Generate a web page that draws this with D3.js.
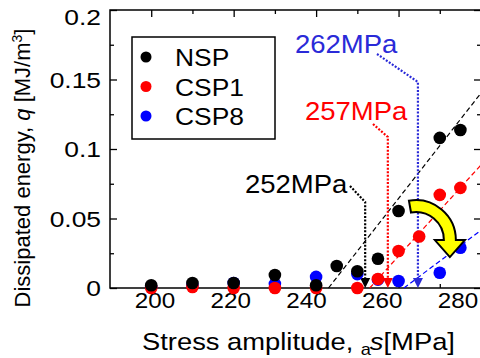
<!DOCTYPE html>
<html>
<head>
<meta charset="utf-8">
<script src="https://cdn.jsdelivr.net/npm/d3@7"></script>
<style>
  body { margin: 0; background: #fff; }
  svg { display: block; font-family: "Liberation Sans", Arial, sans-serif; }
</style>
</head>
<body>
<div id="chart"></div>
<script>
// series
const nspStress = [200, 210, 220, 230, 240, 245, 250, 255, 260, 270, 275];
const nspQ      = [0.002, 0.0036, 0.0036, 0.0094, 0.002, 0.0158, 0.012, 0.021, 0.0554, 0.108, 0.1137];
const csp1Stress = [200, 210, 220, 230, 240, 250, 255, 260, 265, 270, 275];
const csp1Q      = [0, 0.0007, 0, 0, 0, 0, 0.0065, 0.0266, 0.037, 0.067, 0.072];
const csp8Stress = [200, 210, 220, 230, 240, 250, 255, 260, 270, 275];
const csp8Q      = [0.001, 0.002, 0.0036, 0.003, 0.008, 0.010, 0.006, 0.005, 0.011, 0.029];

const seriesNames = ['NSP', 'CSP1', 'CSP8'];
const seriesColors = ['#000000', '#ff0000', '#0000ff'];

// linear fits (start on q = 0, slope in MJ/m3 per MPa)
const fitStart = [243, 253, 261.3];
const fitSlope = [0.00379, 0.00328, 0.00222];

// threshold annotations
const annotLabels = ['252MPa', '257MPa', '262MPa'];
const annotStress = [251.9, 257.4, 264.7];
const annotColors = ['#000000', '#ff0000', '#2a2ad8'];

const xTickLabels = [200, 220, 240, 260, 280];
const yTickLabels = [0, 0.05, 0.1, 0.15, 0.2];

const width = 480, height = 358;
const m = { left: 110, top: 10, right: 481, bottom: 288 };

const svg = d3.select('#chart').append('svg')
  .attr('width', width)
  .attr('height', height);

const x = d3.scaleLinear().domain([190, 280]).range([m.left, m.right]);
const y = d3.scaleLinear().domain([0, 0.2]).range([m.bottom, m.top]);
// printed numbers sit on their own spacing in the original figure
const xLab = d3.scaleLinear().domain([200, 280]).range([155, 458]);

// stretched text helper (the figure is widened horizontally)
function label(g, px, py, sx, size) {
  return g.append('text')
    .attr('transform', `translate(${px},${py}) scale(${sx},1)`)
    .style('font-size', size + 'px');
}

// ---- frame and ticks ----
const axes = svg.append('g');
const tickMajX = d3.range(200, 281, 20), tickMinX = d3.range(210, 281, 20);
const tickMajY = d3.range(0, 0.201, 0.05), tickMinY = d3.range(0.025, 0.2, 0.05);

function inner(axisFn, scale, vals, len, transform) {
  axes.append('g')
    .attr('transform', transform)
    .call(axisFn(scale).tickValues(vals).tickSize(len).tickFormat(''))
    .call(g => g.select('.domain').remove())
    .call(g => g.selectAll('line').attr('stroke', '#000').attr('stroke-width', 1.3));
}
inner(d3.axisTop, x, tickMajX, 7, `translate(0,${m.bottom})`);
inner(d3.axisTop, x, tickMinX, 4, `translate(0,${m.bottom})`);
inner(d3.axisBottom, x, tickMajX, 7, `translate(0,${m.top})`);
inner(d3.axisBottom, x, tickMinX, 4, `translate(0,${m.top})`);
inner(d3.axisRight, y, tickMajY, 7, `translate(${m.left},0)`);
inner(d3.axisRight, y, tickMinY, 4, `translate(${m.left},0)`);
inner(d3.axisLeft, y, tickMajY, 7, `translate(${m.right},0)`);
inner(d3.axisLeft, y, tickMinY, 4, `translate(${m.right},0)`);

axes.append('rect')
  .attr('x', m.left).attr('y', m.top)
  .attr('width', m.right - m.left).attr('height', m.bottom - m.top)
  .attr('fill', 'none').attr('stroke', '#000').attr('stroke-width', 1.5);

// tick labels
const tl = svg.append('g').attr('fill', '#000');
xTickLabels.forEach(v => {
  label(tl, xLab(v), 308, 1.1, 22).attr('text-anchor', 'middle').text(v);
});
yTickLabels.forEach(v => {
  // the top label is held inside the picture
  label(tl, 101, Math.max(y(v), 17) + 8, 1.2, 22).attr('text-anchor', 'end').text(v);
});

// axis titles
const yt = svg.append('text')
  .attr('transform', `translate(30,${168}) rotate(-90)`)
  .attr('text-anchor', 'middle')
  .style('font-size', '22px');
yt.append('tspan').text('Dissipated energy, ');
yt.append('tspan').style('font-style', 'italic').text('q');
yt.append('tspan').text(' [MJ/m');
yt.append('tspan').attr('dy', -8).style('font-size', '14px').text('3');
yt.append('tspan').attr('dy', 8).text(']');

const xt = label(svg, 142, 350, 1.14, 24);
xt.append('tspan').text('Stress amplitude, ');
xt.append('tspan').attr('dy', 5).style('font-size', '16px').text('a');
xt.append('tspan').attr('dy', -5).attr('dx', -1).style('font-style', 'italic').text('s');
xt.append('tspan').text('[MPa]');

// ---- fit lines ----
const fits = svg.append('g');
fitStart.forEach((s, i) => {
  const end = 280;
  fits.append('line')
    .attr('x1', x(s)).attr('y1', y(0))
    .attr('x2', x(end)).attr('y2', y(fitSlope[i] * (end - s)))
    .attr('stroke', seriesColors[i])
    .attr('stroke-width', 1.2)
    .attr('stroke-dasharray', '5,3');
});

// ---- threshold annotations ----
// label anchor (left, baseline) and the elbow drop, in pixels
const annotLayout = [
  { tx: 245, ty: 193, sx: 350, sy: 186, ey: 202 },
  { tx: 305, ty: 120, sx: 373, sy: 124, ey: 137 },
  { tx: 295, ty: 53,  sx: 377, sy: 54,  ey: 82 }
];
const ann = svg.append('g');
annotStress.forEach((v, i) => {
  const L = annotLayout[i], ax = x(v), c = annotColors[i];
  ann.append('polyline')
    .attr('points', `${L.sx},${L.sy} ${ax},${L.ey} ${ax},${y(0) - 8}`)
    .attr('fill', 'none')
    .attr('stroke', c)
    .attr('stroke-width', 2.2)
    .attr('stroke-dasharray', '2,1.6');
  ann.append('path')
    .attr('d', `M${ax - 5},${y(0) - 10} L${ax + 5},${y(0) - 10} L${ax},${y(0)} Z`)
    .attr('fill', c);
  label(ann, L.tx, L.ty, 1.1, 25).attr('fill', c).text(annotLabels[i]);
});

// ---- points ----
const series = [
  { xs: csp8Stress, qs: csp8Q, c: seriesColors[2] },
  { xs: csp1Stress, qs: csp1Q, c: seriesColors[1] },
  { xs: nspStress,  qs: nspQ,  c: seriesColors[0] }
];
series.forEach(s => {
  svg.append('g').selectAll('circle')
    .data(s.xs.map((v, i) => [v, s.qs[i]]))
    .join('circle')
    .attr('cx', d => x(d[0]))
    .attr('cy', d => y(d[1]))
    .attr('r', 6.3)
    .attr('fill', s.c);
});

// ---- yellow curved arrow ----
const arrowCenter = [264.2, 0.0345];
(function () {
  const cx = x(arrowCenter[0]), cy = y(arrowCenter[1]);
  const rO = 40, rI = 28, rM = 34;
  const a0 = -100 * Math.PI / 180, a1 = 0;
  const p = (r, a) => [cx + r * Math.cos(a), cy + r * Math.sin(a)];
  const o0 = p(rO, a0), o1 = p(rO, a1), i0 = p(rI, a0), i1 = p(rI, a1);
  const hw = 15, tip = [cx + rM, cy + 17];
  const d = `M${i0} A${rI},${rI} 0 0 1 ${i1}` +
    ` L${cx + rM - hw},${cy} L${tip} L${cx + rM + hw},${cy}` +
    ` L${o1} A${rO},${rO} 0 0 0 ${o0} Z`;
  svg.append('path')
    .attr('d', d)
    .attr('fill', '#ffff00')
    .attr('stroke', '#000')
    .attr('stroke-width', 2)
    .attr('stroke-linejoin', 'miter');
})();

// ---- legend ----
const lg = svg.append('g');
lg.append('rect')
  .attr('x', 132).attr('y', 37).attr('width', 143).attr('height', 102)
  .attr('fill', '#fff').attr('stroke', '#000').attr('stroke-width', 1.5);
seriesNames.forEach((n, i) => {
  const ly = 57 + i * 29.5;
  lg.append('circle').attr('cx', 146).attr('cy', ly).attr('r', 5.5).attr('fill', seriesColors[i]);
  label(lg, 175, ly + 9, 1.1, 24).text(n);
});
</script>
</body>
</html>
